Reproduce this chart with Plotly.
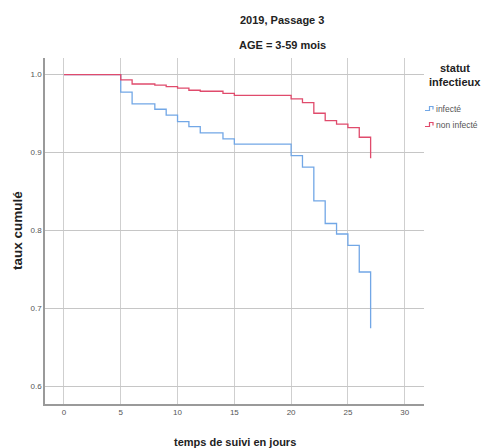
import plotly.graph_objects as go

# Kaplan-Meier style cumulative rates, 2019 passage 3, age 3-59 months
days_infecte = [0, 5, 6, 8, 9, 10, 11, 12, 14, 15, 20, 21, 22, 23, 24, 25, 26, 27]
taux_infecte = [1.0, 0.9776, 0.9624, 0.9556, 0.9482, 0.9397, 0.9333, 0.9253, 0.9176,
                0.9108, 0.8962, 0.8813, 0.838, 0.809, 0.7955, 0.781, 0.7467, 0.6744]

days_non_infecte = [0, 5, 6, 8, 9, 10, 11, 12, 14, 15, 20, 21, 22, 23, 24, 25, 26, 27]
taux_non_infecte = [1.0, 0.9933, 0.988, 0.9866, 0.9846, 0.9827, 0.980, 0.9787, 0.976,
                    0.9735, 0.969, 0.9642, 0.9505, 0.941, 0.9366, 0.932, 0.9197, 0.8928]

series_names = ["infecté", "non infecté"]
x_ticks = [0, 5, 10, 15, 20, 25, 30]
y_ticks = [0.6, 0.7, 0.8, 0.9, 1.0]

BLUE = "#72a7e6"
RED = "#e04b6c"
SANS = "Liberation Sans, Arial, sans-serif"

fig = go.Figure()
fig.add_trace(go.Scatter(x=days_infecte, y=taux_infecte, mode="lines",
                         line=dict(shape="hv", color=BLUE, width=1.3),
                         name=series_names[0], showlegend=False))
fig.add_trace(go.Scatter(x=days_non_infecte, y=taux_non_infecte, mode="lines",
                         line=dict(shape="hv", color=RED, width=1.3),
                         name=series_names[1], showlegend=False))

fig.update_layout(
    width=485, height=448,
    margin=dict(l=45, r=61, t=58, b=44),
    paper_bgcolor="white", plot_bgcolor="white",
    xaxis=dict(range=[-1.67, 31.7], tickvals=x_ticks, ticktext=[str(v) for v in x_ticks],
               showgrid=True, gridcolor="#cfcfcf", gridwidth=1.2, zeroline=False,
               showline=True, linecolor="#9a9a9a", linewidth=1.5,
               tickfont=dict(family=SANS, size=8, color="#555"), ticks=""),
    yaxis=dict(range=[0.5773, 1.0214], tickvals=y_ticks, ticktext=[f"{v:.1f}" for v in y_ticks],
               showgrid=True, gridcolor="#c6c6c6", gridwidth=1.2, zeroline=False,
               showline=True, linecolor="#9a9a9a", linewidth=1.5,
               tickfont=dict(family=SANS, size=8, color="#555"), ticks=""),
)

def py(ypx):
    return (404 - ypx) / 346

def px(xpx):
    return (xpx - 45) / 379

annotations = [
    dict(text="<b>2019, Passage 3</b>", x=px(282), y=py(20), font=dict(family=SANS, size=11, color="#222")),
    dict(text="<b>AGE = 3-59 mois</b>", x=px(282), y=py(45), font=dict(family=SANS, size=11, color="#222")),
    dict(text="<b>temps de suivi en jours</b>", x=px(234.5), y=py(442), font=dict(family=SANS, size=11, color="#222")),
    dict(text="<b>taux cumulé</b>", x=px(17.5), y=py(230.5), textangle=-90, font=dict(family=SANS, size=13.5, color="#222")),
    dict(text="<b>statut</b>", x=px(455), y=py(68), font=dict(family=SANS, size=11, color="#222")),
    dict(text="<b>infectieux</b>", x=px(455), y=py(82), font=dict(family=SANS, size=11, color="#222")),
]
for a in annotations:
    a.update(xref="paper", yref="paper", showarrow=False, xanchor="center", yanchor="middle")

# legend entries with step glyphs
for name, color, ycen in [(series_names[0], BLUE, 108.5), (series_names[1], RED, 124.5)]:
    annotations.append(dict(text=name, xref="paper", yref="paper", x=px(433.5), y=py(ycen),
                            xanchor="left", yanchor="middle", showarrow=False,
                            font=dict(family=SANS, size=8.5, color="#555")))
    x0, x1, x2 = px(425), px(429.5), px(433)
    ylo, yhi = py(ycen + 2), py(ycen - 2)
    fig.add_shape(type="path", xref="paper", yref="paper",
                  path=f"M {x0},{ylo} L {x1},{ylo} L {x1},{yhi} L {x2},{yhi} L {x2},{py(ycen + 1)}",
                  line=dict(color=color, width=1.2))

fig.update_layout(annotations=annotations)
fig.write_html("out.html")
